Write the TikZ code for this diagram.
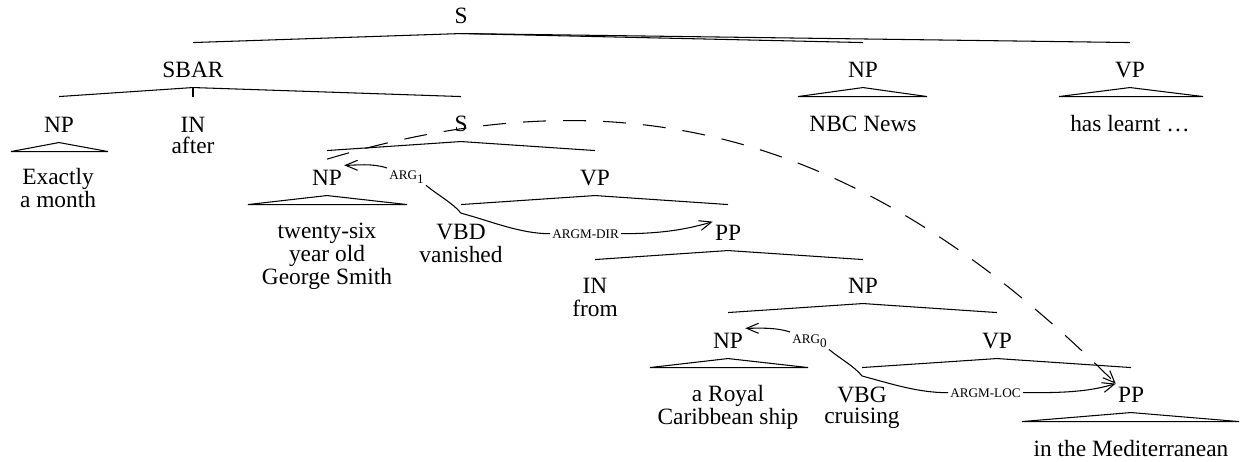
\documentclass[tikz,border=0pt]{standalone}
\usepackage{fontspec}
\setmainfont{Liberation Serif}
\usetikzlibrary{calc,arrows.meta}

\begin{document}
\begin{tikzpicture}[x=0.02cm, y=-0.02cm, line width=0.6pt,
  every node/.style={font=\fontsize{13.3}{13}\selectfont},
  cat/.style={anchor=base, inner xsep=1pt, inner ysep=5.7pt, text depth=0pt},
  word/.style={anchor=base, inner sep=1pt},
  leaf/.style={align=center, inner sep=1pt},
  role/.style={anchor=base west, inner sep=1pt, font=\fontsize{7.5}{8}\selectfont},
  >={Straight Barb[length=0.24cm,width=0.2cm]}]

\useasboundingbox (0,0) rectangle (1248,461);

%%%%%%%%%%%%%%%%%%%%%%%%%%%%%%%%%%%%%%%%%%%%%%%%%%%%%%%%%%%%%%%%
% Main clause
%%%%%%%%%%%%%%%%%%%%%%%%%%%%%%%%%%%%%%%%%%%%%%%%%%%%%%%%%%%%%%%%

\node[cat] (s_top) at (461,23) {S};

\node[cat] (sbar) at (193,77) {SBAR};
\node[cat] (np_nbc) at (863,77) {NP};
\node[cat] (vp_has) at (1130,77) {VP};

\node[word] (w_nbc) at (863,131) {NBC News};
\node[word] (w_has) at (1130,131) {has learnt \ldots};

% Edges
\draw (s_top.south) -- ($(s_top.south -| sbar)+(0,9)$);
\draw (s_top.south) -- ($(s_top.south -| np_nbc)+(0,9)$);
\draw (s_top.south) -- ($(s_top.south -| vp_has)+(0,9)$);

\draw (np_nbc.south) -- ++(-65,9) -- ++(129,0) -- cycle;
\draw (vp_has.south) -- ++(-71,9) -- ++(144,0) -- cycle;

%%%%%%%%%%%%%%%%%%%%%%%%%%%%%%%%%%%%%%%%%%%%%%%%%%%%%%%%%%%%%%%%
% SBAR
%%%%%%%%%%%%%%%%%%%%%%%%%%%%%%%%%%%%%%%%%%%%%%%%%%%%%%%%%%%%%%%%

\node[cat] (np_month) at (59,132) {NP};
\node[leaf] (w_month) at (58,188) {Exactly\\a month};

\node[cat] (in_after) at (193,132) {IN};
\node[word] (w_after) at (193,153) {after};

\node[cat] (s_emb) at (461,131) {S};

% Edges
\draw (sbar.south) -- ($(sbar.south -| np_month)+(0,9)$);
\draw (sbar.south) -- ($(sbar.south -| in_after)+(0,9)$);
\draw (sbar.south) -- ($(sbar.south -| s_emb)+(0,9)$);

\draw (np_month.south) -- ++(-48,9) -- ++(97,0) -- cycle;

%%%%%%%%%%%%%%%%%%%%%%%%%%%%%%%%%%%%%%%%%%%%%%%%%%%%%%%%%%%%%%%%
% Embedded clause
%%%%%%%%%%%%%%%%%%%%%%%%%%%%%%%%%%%%%%%%%%%%%%%%%%%%%%%%%%%%%%%%

\node[cat] (np_george) at (327,185) {NP};
\node[leaf] (w_george) at (327,256) {twenty-six\\year old\\George Smith};

\node[cat] (vp_van) at (595,185) {VP};

\node[cat] (vbd) at (461,239) {VBD};
\node[word] (w_vanished) at (461,262) {vanished};

\node[cat] (pp_dir) at (728,240) {PP};

\node[cat] (in_from) at (595,293) {IN};
\node[word] (w_from) at (595,316) {from};

\node[cat] (np_ship) at (863,293) {NP};

% Edges
\draw (s_emb.south) -- ($(s_emb.south -| np_george)+(0,9)$);
\draw (s_emb.south) -- ($(s_emb.south -| vp_van)+(0,9)$);

\draw (np_george.south) -- ++(-79,9) -- ++(159,0) -- cycle;

\draw (vp_van.south) -- ($(vp_van.south -| vbd)+(0,9)$);
\draw (vp_van.south) -- ($(vp_van.south -| pp_dir)+(0,9)$);

\draw (pp_dir.south) -- ($(pp_dir.south -| in_from)+(0,9)$);
\draw (pp_dir.south) -- ($(pp_dir.south -| np_ship)+(0,9)$);

%%%%%%%%%%%%%%%%%%%%%%%%%%%%%%%%%%%%%%%%%%%%%%%%%%%%%%%%%%%%%%%%
% Reduced relative
%%%%%%%%%%%%%%%%%%%%%%%%%%%%%%%%%%%%%%%%%%%%%%%%%%%%%%%%%%%%%%%%

\node[cat] (np_royal) at (728,348) {NP};
\node[leaf] (w_royal) at (728,407) {a Royal\\Caribbean ship};

\node[cat] (vp_cru) at (997,348) {VP};

\node[cat] (vbg) at (862,402) {VBG};
\node[word] (w_cruising) at (862,423) {cruising};

\node[cat] (pp_med) at (1131,402) {PP};
\node[word] (w_med) at (1131,456) {in the Mediterranean};

% Edges
\draw (np_ship.south) -- ($(np_ship.south -| np_royal)+(0,9)$);
\draw (np_ship.south) -- ($(np_ship.south -| vp_cru)+(0,9)$);

\draw (np_royal.south) -- ++(-78,9) -- ++(158,0) -- cycle;

\draw (vp_cru.south) -- ($(vp_cru.south -| vbg)+(0,9)$);
\draw (vp_cru.south) -- ($(vp_cru.south -| pp_med)+(0,9)$);

\draw (pp_med.south) -- ++(-109,9) -- ++(217,0) -- cycle;

%%%%%%%%%%%%%%%%%%%%%%%%%%%%%%%%%%%%%%%%%%%%%%%%%%%%%%%%%%%%%%%%
% Role arcs
%%%%%%%%%%%%%%%%%%%%%%%%%%%%%%%%%%%%%%%%%%%%%%%%%%%%%%%%%%%%%%%%

% vanished
\node[role] (arg1) at (387,179) {ARG\raisebox{-0.08cm}{1}};
\node[role] (argmdir) at (550,238) {ARGM-DIR};

\draw (vbd.north) .. controls +(-8,-10) and +(12,10) .. (arg1.south east);
\draw[->] (arg1.north west) .. controls +(-15,-5) and +(12,0) .. (np_george.35);
\draw (vbd.north) .. controls +(30,8) and +(-30,0) .. (argmdir.west);
\draw[->] (argmdir.east) .. controls +(35,0) and +(-30,9) .. (pp_dir.145);

% cruising
\node[role] (arg0) at (790,343) {ARG\raisebox{-0.08cm}{0}};
\node[role] (argmloc) at (948,397) {ARGM-LOC};

\draw (vbg.north) .. controls +(-8,-10) and +(12,10) .. (arg0.south east);
\draw[->] (arg0.north west) .. controls +(-15,-5) and +(12,0) .. (np_royal.35);
\draw (vbg.north) .. controls +(30,8) and +(-30,0) .. (argmloc.west);
\draw[->] (argmloc.east) .. controls +(35,0) and +(-30,9) .. (pp_med.145);

% Long dependency
\draw[->,dash pattern=on 0.46cm off 0.34cm] (np_george.north) .. controls +(300,-90) and +(-250,-250) .. (pp_med.145);

\end{tikzpicture}
\end{document}
